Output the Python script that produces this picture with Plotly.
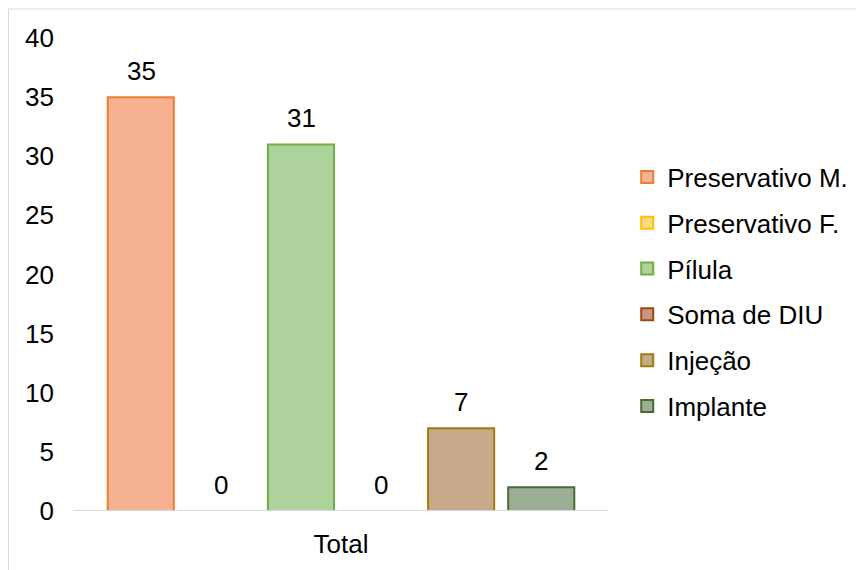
import plotly.graph_objects as go

# data
category = ["Total"]
methods = ["Preservativo M.", "Preservativo F.", "Pílula", "Soma de DIU", "Injeção", "Implante"]
counts = [35, 0, 31, 0, 7, 2]

fills = ["#F6B191", "#FFD97F", "#AED29B", "#C99488", "#C6AA89", "#9CAF96"]
edges = ["#ED7D31", "#FFC000", "#70AD47", "#9E480E", "#A07C0A", "#4A6B33"]

FONT = "Arial, Liberation Sans, sans-serif"
FS = 26

fig = go.Figure()
for i, m in enumerate(methods):
    fig.add_trace(go.Bar(
        x=category,
        y=[counts[i]],
        name=m,
        legendgroup=m,
        marker=dict(color=fills[i], line=dict(color=edges[i], width=2)),
        hoverinfo="name+y"))

# value labels above each bar of the group
slot = 80
for i, v in enumerate(counts):
    fig.add_annotation(
        x=category[0], y=v,
        text=str(v),
        showarrow=False,
        xshift=(i - 2.5) * slot,
        yshift=26,
        yanchor="middle",
        font=dict(family=FONT, size=FS, color="black"))

# baseline drawn over the bar bottoms (hides outline of empty bars)
fig.add_shape(type="line", xref="paper", yref="y",
              x0=0, x1=1, y0=0, y1=0,
              line=dict(color="#D9D9D9", width=2), layer="above")

# light frame around the chart
fig.add_shape(type="rect", xref="paper", yref="paper",
              x0=-0.1227, x1=1.5, y0=-0.2, y1=1.0613,
              line=dict(color="#D9D9D9", width=1), fillcolor="rgba(0,0,0,0)",
              layer="below")

fig.update_layout(
    width=864, height=570,
    margin=dict(l=66, r=264, t=30, b=67),
    plot_bgcolor="white",
    paper_bgcolor="white",
    barmode="group",
    bargap=0.1,
    bargroupgap=0.175,
    font=dict(family=FONT, size=FS, color="black"),
    showlegend=True,
    legend=dict(
        x=1.036, xanchor="left",
        y=0.464, yanchor="middle",
        tracegroupgap=9,
        font=dict(family=FONT, size=FS, color="black"),
        bgcolor="rgba(0,0,0,0)"),
    xaxis=dict(
        showline=False,
        showgrid=False, ticks="",
        ticklabelstandoff=15,
        tickfont=dict(family=FONT, size=FS, color="black")),
    yaxis=dict(
        range=[0, 40], dtick=5,
        showgrid=False, zeroline=False, showline=False, ticks="",
        ticklabelstandoff=19,
        tickfont=dict(family=FONT, size=FS, color="black")),
)

fig.write_html("out.html")
